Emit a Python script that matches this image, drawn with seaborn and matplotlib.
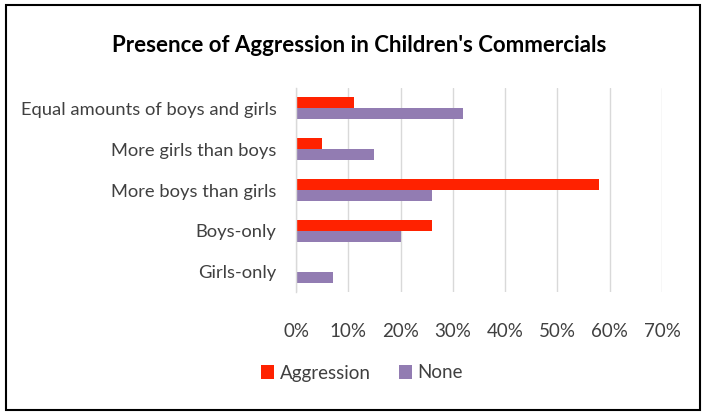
import matplotlib
matplotlib.use("Agg")
import matplotlib.pyplot as plt
import seaborn as sns
import pandas as pd
from matplotlib.patches import Rectangle
from matplotlib.ticker import PercentFormatter

categories = ["Equal amounts of boys and girls", "More girls than boys",
              "More boys than girls", "Boys-only", "Girls-only"]
aggression = [0.11, 0.05, 0.58, 0.26, 0.0]
none_vals = [0.32, 0.15, 0.26, 0.20, 0.07]
series = ["Aggression", "None"]
colors = ["#FF2200", "#927CB2"]

df = pd.DataFrame({
    "category": categories * 2,
    "value": aggression + none_vals,
    "series": [series[0]] * len(categories) + [series[1]] * len(categories),
})

sns.set_theme(style="white")
plt.rcParams["font.family"] = ["Lato", "DejaVu Sans"]

fig = plt.figure(figsize=(7.03, 4.12), dpi=100)
W, H = 703, 412
ax = fig.add_axes([296 / W, 1 - 292 / H, (662 - 296) / W, (292 - 88) / H])

sns.barplot(data=df, y="category", x="value", hue="series", order=categories,
            hue_order=series, palette=colors, orient="h", width=0.54, gap=0,
            ax=ax, saturation=1, legend=True, linewidth=0)

ax.set_xlim(0, 0.7)
ax.set_ylim(4.5, -0.5)
ax.set_xticks([i / 10 for i in range(8)])
ax.xaxis.set_major_formatter(PercentFormatter(1.0, decimals=0))
ax.grid(axis="x", color="#D9D9D9", linewidth=1)
ax.set_axisbelow(True)
for s in ["top", "right", "bottom"]:
    ax.spines[s].set_visible(False)
ax.spines["left"].set_color("#D9D9D9")
ax.spines["left"].set_linewidth(1)
ax.set_xlabel("")
ax.set_ylabel("")
ax.tick_params(axis="x", length=0, labelsize=13.5, labelcolor="#404040", pad=22)
ax.tick_params(axis="y", length=0, labelsize=13.2, labelcolor="#404040", pad=14)

handles, labels = ax.get_legend_handles_labels()
ax.legend_.remove()
fig.legend(handles, labels, loc="center", bbox_to_anchor=(362 / W, 1 - 373 / H),
           ncol=2, frameon=False, fontsize=13.5, handlelength=0.7, handleheight=0.7,
           handletextpad=0.3, columnspacing=1.5, labelcolor="#404040")

fig.text(359 / W, 1 - 46 / H, "Presence of Aggression in Children's Commercials",
         ha="center", va="center", fontsize=16, fontweight="bold", color="#000000")

fig.patches.append(Rectangle((6 / W, 1 - 410 / H), (700 - 6) / W, (410 - 5) / H,
                             transform=fig.transFigure, fill=False,
                             edgecolor="#000000", linewidth=1.5))

fig.savefig("out.png", dpi=100)
